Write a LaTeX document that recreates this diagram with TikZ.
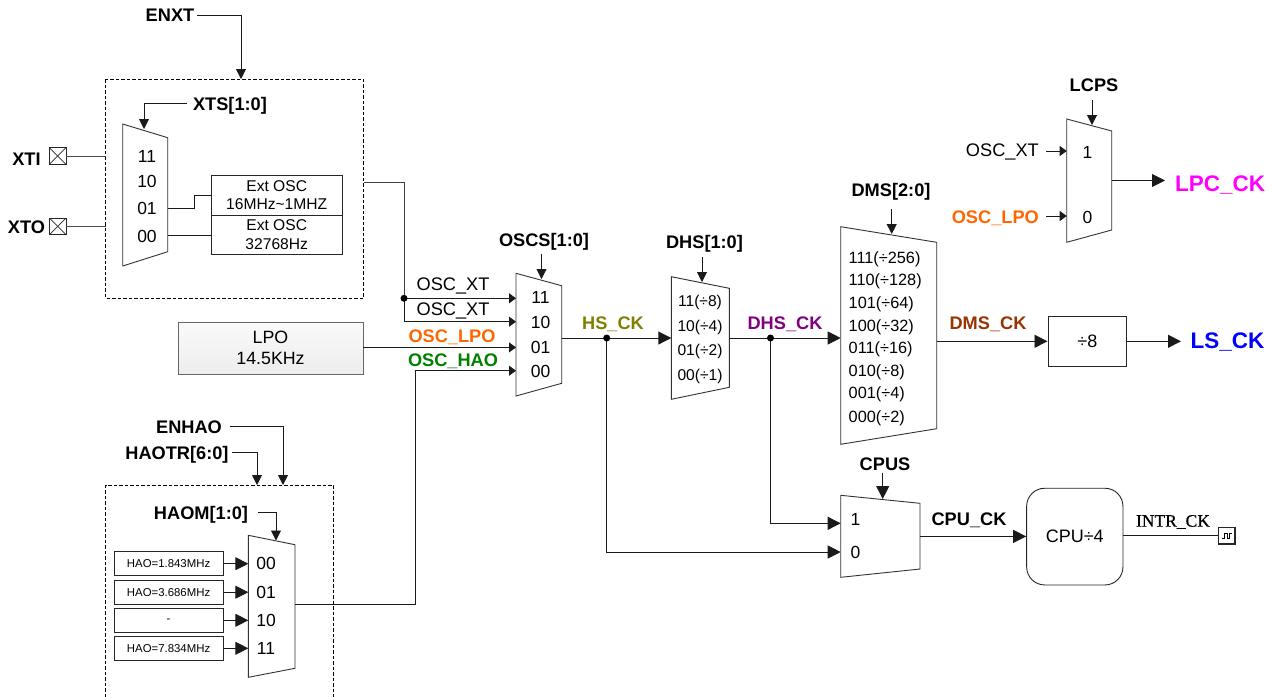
\documentclass[tikz,border=0pt]{standalone}
\usepackage{fontspec}
\setmainfont{Liberation Sans}
\newfontfamily\intrfont[FakeBold=0.6]{Liberation Serif}
\usetikzlibrary{arrows.meta}
\definecolor{orangeck}{HTML}{FF6600}
\definecolor{greenck}{HTML}{008000}
\definecolor{oliveck}{HTML}{808000}
\definecolor{purpleck}{HTML}{800080}
\definecolor{brownck}{HTML}{993300}
\definecolor{magentack}{HTML}{FF00FF}
\definecolor{blueck}{HTML}{0000FF}
\definecolor{wirec}{HTML}{1A1A1A}
\tikzset{
	wire/.style={line width=0.9pt,draw=wirec},
	bigarrow/.style={wire,-{Triangle[length=13pt,width=13pt]}},
	midarrow/.style={wire,-{Triangle[length=10pt,width=10pt]}},
	tinyarrow/.style={wire,-{Triangle[length=7pt,width=10pt]}},
	muxshape/.style={line width=0.9pt,draw=black!80},
	dashbox/.style={line width=0.8pt,dash pattern=on 3.5pt off 2pt},
	sig/.style={inner sep=0pt,font=\fontsize{18.2}{20}\selectfont},
	boldsig/.style={sig,font=\fontsize{18.2}{20}\selectfont\bfseries},
	bigsig/.style={inner sep=0pt,font=\fontsize{22.5}{26}\selectfont\bfseries},
	sel/.style={inner sep=0pt,font=\fontsize{17.5}{20}\selectfont},
	div/.style={inner sep=0pt,font=\fontsize{15.6}{18}\selectfont},
	rowtext/.style={inner sep=0pt,font=\fontsize{16.3}{18}\selectfont},
	oscbox/.style={draw=black!85,line width=0.9pt,inner sep=0pt,align=center,font=\fontsize{15.6}{18.6}\selectfont},
	haobox/.style={draw=black!85,line width=0.9pt,inner sep=0pt,minimum width=109.3pt,minimum height=24pt,font=\fontsize{11.4}{14}\selectfont},
	pad/.style={draw=black!85,line width=0.9pt,inner sep=0pt,minimum size=16.5pt,path picture={
		\draw[line width=0.7pt] (path picture bounding box.north west) to (path picture bounding box.south east);
		\draw[line width=0.7pt] (path picture bounding box.north east) to (path picture bounding box.south west);}},
	dot/.style={circle,fill=black,inner sep=0pt,minimum size=7pt},
}
\begin{document}
\begin{tikzpicture}[x=1pt,y=-1pt]
	\useasboundingbox (0,0) rectangle (1279,697);
	\draw [dashbox] (105.5,79) rectangle (363.5,298);
	\draw [dashbox] (105.5,697) to (105.5,485) to (333.5,485) to (333.5,697);
	\draw [muxshape,fill=white] (122.7,124) to (167.7,137.7) to (167.7,251.7) to (122.7,266) to cycle;
	\draw [muxshape,fill=white] (248.3,535.3) to (295,544.7) to (295,668.3) to (248.3,677.3) to cycle;
	\draw [muxshape,fill=white] (516,273.3) to (561.7,285.7) to (561.7,383.3) to (516,396) to cycle;
	\draw [muxshape,fill=white] (671.3,276.7) to (729.3,288.3) to (729.3,387.3) to (671.3,399.3) to cycle;
	\draw [muxshape,fill=white] (840.7,226.7) to (936.7,242.3) to (936.7,428.7) to (840.7,444.3) to cycle;
	\draw [muxshape,fill=white] (1066.7,119) to (1111.7,131) to (1111.7,230) to (1066.7,242.3) to cycle;
	\draw [muxshape,fill=white] (840.7,495.3) to (920,503.3) to (920,569) to (840.7,577.3) to cycle;

	\node [boldsig] (ENXT) at (170,15) {ENXT};
	\node [boldsig] (XTS) at (230,106) {XTS[1:0]};
	\node [boldsig] (XTI) at (26.5,159) {XTI};
	\node [boldsig] (XTO) at (26.5,227) {XTO};
	\node [pad] (XTIpad) at (57.7,156) {};
	\node [pad] (XTOpad) at (57.7,226.3) {};
	\node [sel] (XTa) at (147,156) {11};
	\node [sel] (XTb) at (147,181) {10};
	\node [sel] (XTc) at (147,208) {01};
	\node [sel] (XTd) at (147,236) {00};
	\node [oscbox,minimum width=131.5pt,minimum height=39.5pt] (ExtHi) at (276.7,195.2) {Ext OSC\\16MHz\textasciitilde 1MHZ};
	\node [oscbox,minimum width=131.5pt,minimum height=39.5pt] (ExtLo) at (276.7,234.7) {Ext OSC\\32768Hz};
	\node [draw=black!60,line width=0.9pt,inner sep=0pt,align=center,top color=white!98!black,bottom color=white!93!black,minimum width=185pt,minimum height=52pt,font=\fontsize{17.8}{21}\selectfont] (LPO) at (270.5,348) {LPO\\14.5KHz};

	\node [boldsig] (ENHAO) at (189,427) {ENHAO};
	\node [boldsig] (HAOTR) at (177,454.5) {HAOTR[6:0]};
	\node [boldsig] (HAOM) at (201,515) {HAOM[1:0]};
	\node [haobox] (HaoA) at (168.6,563.7) {HAO=1.843MHz};
	\node [haobox] (HaoB) at (168.6,592.2) {HAO=3.686MHz};
	\node [haobox] (HaoC) at (168.6,620.3) {-};
	\node [haobox] (HaoD) at (168.6,648.3) {HAO=7.834MHz};
	\node [sel] (HMa) at (266,563.5) {00};
	\node [sel] (HMb) at (266,592) {01};
	\node [sel] (HMc) at (266,620) {10};
	\node [sel] (HMd) at (266,648) {11};

	\node [boldsig] (OSCS) at (544,242) {OSCS[1:0]};
	\node [sig] (XTone) at (453,286) {OSC\_XT};
	\node [sig] (XTtwo) at (453,311) {OSC\_XT};
	\node [boldsig,text=orangeck] (OSCLPO) at (452,337) {OSC\_LPO};
	\node [boldsig,text=greenck] (OSCHAO) at (453,361) {OSC\_HAO};
	\node [sel] (OSa) at (540.5,297) {11};
	\node [sel] (OSb) at (540.5,322) {10};
	\node [sel] (OSc) at (540.5,347) {01};
	\node [sel] (OSd) at (540.5,371) {00};
	\node [boldsig,text=oliveck] (HSCK) at (613,324) {HS\_CK};

	\node [boldsig] (DHS) at (704.5,244) {DHS[1:0]};
	\node [div] (DHa) at (700,302) {11(÷8)};
	\node [div] (DHb) at (700,327) {10(÷4)};
	\node [div] (DHc) at (700,351) {01(÷2)};
	\node [div] (DHd) at (700,376) {00(÷1)};
	\node [boldsig,text=purpleck] (DHSCK) at (785,324) {DHS\_CK};

	\node [boldsig] (DMS) at (891,192) {DMS[2:0]};
	\node [rowtext,anchor=west] (DMa) at (848.5,259) {111(÷256)};
	\node [rowtext,anchor=west] (DMb) at (848.5,281) {110(÷128)};
	\node [rowtext,anchor=west] (DMc) at (848.5,304) {101(÷64)};
	\node [rowtext,anchor=west] (DMd) at (848.5,327) {100(÷32)};
	\node [rowtext,anchor=west] (DMe) at (848.5,349.5) {011(÷16)};
	\node [rowtext,anchor=west] (DMf) at (848.5,372) {010(÷8)};
	\node [rowtext,anchor=west] (DMg) at (848.5,394.5) {001(÷4)};
	\node [rowtext,anchor=west] (DMh) at (848.5,418.5) {000(÷2)};
	\node [boldsig,text=brownck] (DMSCK) at (988,324) {DMS\_CK};
	\node [draw=black!85,line width=0.9pt,inner sep=0pt,minimum width=78.7pt,minimum height=50.7pt,font=\fontsize{18}{20}\selectfont] (DivEight) at (1087.3,341.3) {÷8};
	\node [bigsig,text=blueck] (LSCK) at (1227.5,342) {LS\_CK};

	\node [boldsig] (LCPS) at (1094,85) {LCPS};
	\node [sig,anchor=east] (XTright) at (1039,152) {OSC\_XT};
	\node [boldsig,text=orangeck,anchor=east] (LPOright) at (1039,218.5) {OSC\_LPO};
	\node [sel] (LCa) at (1087.5,152) {1};
	\node [sel] (LCb) at (1087.5,217) {0};
	\node [bigsig,text=magentack] (LPCCK) at (1220,185) {LPC\_CK};

	\node [boldsig] (CPUS) at (885,464) {CPUS};
	\node [sel] (CPa) at (855.5,519) {1};
	\node [sel] (CPb) at (855.5,552) {0};
	\node [boldsig] (CPUCK) at (969,520) {CPU\_CK};
	\node [draw=black!85,line width=0.9pt,rounded corners=18pt,inner sep=0pt,minimum width=96.3pt,minimum height=96.7pt,font=\fontsize{18}{20}\selectfont] (CPU) at (1074.8,536.6) {CPU÷4};
	\node [inner sep=0pt,font=\intrfont\fontsize{17.5}{20}\selectfont] (INTR) at (1173,522) {INTR\_CK};
	\node [draw=black!85,line width=1.1pt,inner sep=0pt,minimum size=16.5pt] (PulseBox) at (1226.7,535.7) {};

	\coordinate (XTtop) at (241,79);
	\coordinate (XTSin) at (144,129);
	\coordinate (DashLeftA) at (105.5,156);
	\coordinate (DashLeftB) at (105.5,226.3);
	\coordinate (XTout) at (363.5,182);
	\coordinate (XTMc) at (167.7,208);
	\coordinate (XTMd) at (167.7,235);
	\coordinate (Split) at (404,298.3);
	\coordinate (OSin1) at (516,298.3);
	\coordinate (OSin2) at (516,321.7);
	\coordinate (OSin3) at (516,347.4);
	\coordinate (OSin4) at (516,370.7);
	\coordinate (OSout) at (561.7,338);
	\coordinate (OSsel) at (541.5,279);
	\coordinate (HaoOut) at (295,604);
	\coordinate (HAOtopA) at (257,485);
	\coordinate (HAOtopB) at (283,485);
	\coordinate (HAOsel) at (276,540.5);
	\coordinate (HMin1) at (248.3,563.7);
	\coordinate (HMin2) at (248.3,592.2);
	\coordinate (HMin3) at (248.3,620.3);
	\coordinate (HMin4) at (248.3,648.3);
	\coordinate (HSdot) at (606.7,338);
	\coordinate (DHin) at (671.3,338);
	\coordinate (DHsel) at (702,282);
	\coordinate (DHout) at (729.3,338);
	\coordinate (DHSdot) at (770.5,338);
	\coordinate (DMin) at (840.7,338);
	\coordinate (DMsel) at (891.7,234);
	\coordinate (DMout) at (936.7,341.3);
	\coordinate (LCsel) at (1092,125);
	\coordinate (LCin1) at (1066.7,151);
	\coordinate (LCin2) at (1066.7,216);
	\coordinate (LCout) at (1111.7,180.5);
	\coordinate (CPsel) at (882.7,499);
	\coordinate (CPin1) at (840.7,523.3);
	\coordinate (CPin2) at (840.7,552);
	\coordinate (CPout) at (920,536.4);

	\draw [midarrow] (ENXT.east) ++(3,0.7) -- ++(41,0) -| (XTtop);
	\draw [midarrow] (XTS.west) ++(-6,-3) -| (XTSin);
	\draw [wire,draw=black!70] (XTIpad) ++(8.3,0) to (DashLeftA);
	\draw [wire,draw=black!70] (XTOpad) ++(8.3,0) to (DashLeftB);
	\draw [wire] (XTMc) -- ++(27,0) |- (ExtHi.west);
	\draw [wire] (XTMd) to (XTMd -| ExtLo.west);
	\draw [wire,draw=black!75] (XTout) -| (Split);
	\draw [tinyarrow] (Split) to (OSin1);
	\draw [tinyarrow] (Split) |- (OSin2);
	\node [dot] (SplitDot) at (Split) {};
	\draw [tinyarrow] (LPO.east |- OSin3) to (OSin3);
	\draw [tinyarrow] (HaoOut) -| (415,370.7) to (OSin4);
	\draw [midarrow] (541.5,254) to (OSsel);
	\draw [midarrow] (ENHAO.east) ++(8,-0.3) -| (HAOtopB);
	\draw [midarrow] (HAOTR.east) ++(3,-2.5) -| (HAOtopA);
	\draw [midarrow] (HAOM.east) ++(10,-2.3) -| (HAOsel);
	\draw [bigarrow] (HaoA.east) to (HMin1);
	\draw [bigarrow] (HaoB.east) to (HMin2);
	\draw [bigarrow] (HaoC.east) to (HMin3);
	\draw [bigarrow] (HaoD.east) to (HMin4);
	\draw [bigarrow] (OSout) to (DHin);
	\draw [midarrow] (702,257) to (DHsel);
	\draw [bigarrow] (DHout) to (DMin);
	\draw [midarrow] (891.7,209) to (DMsel);
	\draw [bigarrow] (DMout) to (DivEight.west);
	\draw [bigarrow] (DivEight.east) to (1181,341.3);
	\draw [midarrow] (1092,100) to (LCsel);
	\draw [tinyarrow] (1046,151) to (LCin1);
	\draw [tinyarrow] (1046,216) to (LCin2);
	\draw [bigarrow] (LCout) to (1165,180.5);
	\draw [bigarrow] (882.7,472.7) to (CPsel);
	\draw [bigarrow] (HSdot) |- (CPin2);
	\draw [bigarrow] (DHSdot) |- (CPin1);
	\draw [bigarrow] (CPout) to (CPU.west |- CPout);
	\draw [wire] (CPU.east |- PulseBox.west) to (PulseBox.west);
	\draw [line width=0.8pt] (1222,538.5) to (1224.5,538.5) to (1224.5,533) to (1227.5,533) to (1227.5,538.5) to (1229,538.5) to (1229,533) to (1231.5,533);
	\node [dot] (HSDotMark) at (HSdot) {};
	\node [dot] (DHSDotMark) at (DHSdot) {};
\end{tikzpicture}
\end{document}
